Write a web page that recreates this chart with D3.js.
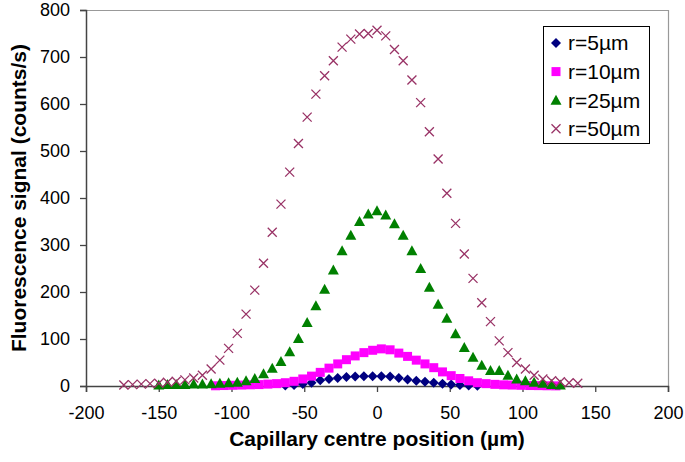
<!DOCTYPE html>
<html>
<head>
<meta charset="utf-8">
<script src="https://cdn.jsdelivr.net/npm/d3@7"></script>
<style>
  body { margin: 0; background: #fff; }
  svg { display: block; font-family: "Liberation Sans", Arial, sans-serif; }
</style>
</head>
<body>
<svg id="chart" width="685" height="462"></svg>
<script>
// r=5 um (diamonds) and r=10 um (squares) sampled at 3 + 6k um
const r5X = [-63, -57, -51, -45, -39, -33, -27, -21, -15, -9, -3, 3, 9, 15, 21, 27, 33, 39, 45, 51, 57, 63, 69];
const r5Y = [1, 2, 4, 7, 12, 15, 17, 19, 20, 21, 21, 21, 20, 17, 14, 11, 9, 7, 5, 3, 2, 1, 0.5];

const r10X = d3.range(-111, 124, 6);
const r10Y = [0.5, 1, 1.5, 2, 2.5, 3, 4, 5, 7, 10, 15, 21, 29, 38, 47, 56, 64, 71, 76, 79,
              77, 70, 63, 55, 47, 39, 30, 22, 16, 11, 7, 5, 3.5, 2.5, 2, 1.5, 1, 0.8, 0.5, 0.3];

// r=25 um (triangles), 6 um steps
const r25X = d3.range(-150, 127, 6);
const r25Y = [2, 3, 3, 3, 4, 4, 5, 6, 7, 8, 11, 16, 26, 38, 52, 73, 101, 135, 171, 206, 247, 288, 321, 350, 366,
              373, 364, 345, 321, 288, 250, 210, 174, 144, 111, 82, 61, 44, 33, 33, 23, 15, 11, 8, 6, 3, 2];

// r=50 um (crosses), 6 um steps
const r50X = d3.range(-174, 139, 6);
const r50Y = [2, 3, 4, 5, 6, 8, 10, 13, 17, 23, 36, 55, 80, 112, 153, 204, 261, 327, 387, 455, 516, 572, 621, 660, 692, 721, 738, 749, 750,
              757, 745, 716, 692, 651, 603, 541, 483, 410, 346, 281, 229, 177, 137, 96, 71, 50, 36, 23, 15, 11, 9, 7, 6];

const seriesNames = ['r=5\u00b5m', 'r=10\u00b5m', 'r=25\u00b5m', 'r=50\u00b5m'];
const seriesColors = ['#000080', '#ff00ff', '#008000', '#993366'];
const seriesShapes = ['diamond', 'square', 'triangle', 'cross'];

const xTicks = [-200, -150, -100, -50, 0, 50, 100, 150, 200];
const yTicks = [0, 100, 200, 300, 400, 500, 600, 700, 800];

const xTitle = 'Capillary centre position (\u00b5m)';
const yTitle = 'Fluorescence signal (counts/s)';

let series = [
    { x: r5X, y: r5Y },
    { x: r10X, y: r10Y },
    { x: r25X, y: r25Y },
    { x: r50X, y: r50Y }
].map((s, i) => ({
    name: seriesNames[i],
    color: seriesColors[i],
    shape: seriesShapes[i],
    points: s.x.map((x, j) => ({ x: x, y: s.y[j] }))
}));

const margin = { top: 10, right: 17, bottom: 76, left: 86 };
const width = 685, height = 462;

let svg = d3.select('#chart');

let x = d3.scaleLinear().domain([-200, 200]).range([margin.left, width - margin.right]);
let y = d3.scaleLinear().domain([0, 800]).range([height - margin.bottom, margin.top]);

// Plot frame: grey top and right edges
svg.append('path')
    .attr('d', `M${x(-200)},${y(800) + 0.5}H${x(200) + 0.5}V${y(0)}`)
    .attr('fill', 'none')
    .attr('stroke', '#999')
    .attr('stroke-width', 1.2);

// Axes (plain hyphen for negatives, as in the original)
let xAxis = svg.append('g')
    .attr('transform', `translate(0,${y(0)})`)
    .call(d3.axisBottom(x).tickValues(xTicks).tickSize(6).tickPadding(14).tickFormat(d => String(d)));

let yAxis = svg.append('g')
    .attr('transform', `translate(${x(-200)},0)`)
    .call(d3.axisLeft(y).tickValues(yTicks).tickSize(6).tickPadding(10).tickFormat(d => String(d)));

[xAxis, yAxis].forEach((ax) => {
    ax.select('.domain').attr('stroke', '#444').attr('stroke-width', 1.5);
    ax.selectAll('.tick line').attr('stroke', '#444').attr('stroke-width', 1.3);
    ax.selectAll('.tick text')
        .attr('fill', '#000')
        .style('font-size', '18px')
        .style('font-family', '"Liberation Sans", Arial, sans-serif');
});
xAxis.selectAll('.tick text').attr('dy', '0.71em');

// Axis titles
svg.append('text')
    .attr('x', (x(-200) + x(200)) / 2)
    .attr('y', 446)
    .attr('text-anchor', 'middle')
    .style('font-size', '21px')
    .style('font-weight', 'bold')
    .text(xTitle);

svg.append('text')
    .attr('transform', `translate(26,${(y(0) + y(800)) / 2}) rotate(-90)`)
    .attr('text-anchor', 'middle')
    .style('font-size', '21px')
    .style('font-weight', 'bold')
    .text(yTitle);

// Marker drawing
let drawMarker = (sel, shape, color) => {
    if (shape === 'diamond') {
        sel.append('path').attr('d', 'M0,-5L5,0L0,5L-5,0Z').attr('fill', color);
    } else if (shape === 'square') {
        sel.append('rect').attr('x', -4.5).attr('y', -4.5).attr('width', 9).attr('height', 9).attr('fill', color);
    } else if (shape === 'triangle') {
        sel.append('path').attr('d', 'M0,-5.5L5.5,4.5L-5.5,4.5Z').attr('fill', color);
    } else {
        sel.append('path').attr('d', 'M-4.5,-4.5L4.5,4.5M-4.5,4.5L4.5,-4.5')
            .attr('stroke', color).attr('stroke-width', 1.3).attr('fill', 'none');
    }
};

series.forEach((s) => {
    svg.append('g')
        .attr('class', 'series')
        .selectAll('g')
        .data(s.points)
        .join('g')
        .attr('transform', d => `translate(${x(d.x)},${y(d.y)})`)
        .each(function () { drawMarker(d3.select(this), s.shape, s.color); });
});

// Legend
let legend = svg.append('g').attr('transform', 'translate(543,26)');
legend.append('rect')
    .attr('x', 0.5).attr('y', 0.5)
    .attr('width', 106).attr('height', 117)
    .attr('fill', '#fff')
    .attr('stroke', '#000')
    .attr('stroke-width', 1);

let legendItems = legend.selectAll('.item')
    .data(series)
    .join('g')
    .attr('class', 'item')
    .attr('transform', (d, i) => `translate(13,${17 + i * 28.6})`);

legendItems.each(function (d) { drawMarker(d3.select(this), d.shape, d.color); });

legendItems.append('text')
    .attr('x', 12)
    .attr('dy', '0.35em')
    .style('font-size', '21px')
    .text(d => d.name);
</script>
</body>
</html>
